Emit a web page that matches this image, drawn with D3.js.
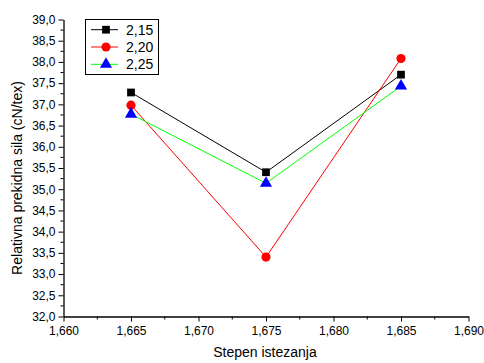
<!DOCTYPE html>
<html><head><meta charset="utf-8">
<script src="https://cdn.jsdelivr.net/npm/d3@7"></script>
<style>body{margin:0;background:#fff}svg{display:block}text{font-family:Arial,"Liberation Sans",sans-serif}</style>
</head><body>
<script>
const xValues = [1.665, 1.675, 1.685];
const seriesNames = ["2,15", "2,20", "2,25"];
const s215 = [37.28, 35.40, 37.70];
const s220 = [36.98, 33.40, 38.08];
const s225 = [36.77, 35.14, 37.43];
const xTicks = [1.660, 1.665, 1.670, 1.675, 1.680, 1.685, 1.690];
const yTicks = [32.0,32.5,33.0,33.5,34.0,34.5,35.0,35.5,36.0,36.5,37.0,37.5,38.0,38.5,39.0];

const W = 484, H = 363;
const svg = d3.select("body").append("svg").attr("width", W).attr("height", H);
const x = d3.scaleLinear().domain([1.660, 1.690]).range([63.5, 468.5]);
const y = d3.scaleLinear().domain([32, 39]).range([316.5, 19.5]);
const fmt = d => d.toFixed(3).replace(".", ",");
const fmtY = d => d.toFixed(1).replace(".", ",");

const xMinor = d3.range(0, 6).map(i => 1.6625 + i * 0.005);
const yMinor = d3.range(0, 14).map(i => 32.25 + i * 0.5);

const gx = svg.append("g").attr("transform", "translate(0,316.5)");
gx.call(d3.axisBottom(x).tickValues(xTicks).tickFormat(fmt).tickSize(5).tickSizeOuter(0));
gx.selectAll("text").attr("font-size", 12).attr("fill", "#000").attr("dy", "0.85em");
gx.selectAll("line,path").attr("stroke", "#000");
gx.select("path").attr("stroke-width", 1.3);
gx.append("g").selectAll("line").data(xMinor).join("line")
  .attr("x1", d => x(d)).attr("x2", d => x(d)).attr("y1", 0).attr("y2", 3).attr("stroke", "#000");

const gy = svg.append("g").attr("transform", "translate(63.5,0)");
gy.call(d3.axisLeft(y).tickValues(yTicks).tickFormat(fmtY).tickSize(5).tickSizeOuter(0));
gy.selectAll("text").attr("font-size", 12).attr("fill", "#000");
gy.selectAll("line,path").attr("stroke", "#000");
gy.select("path").attr("stroke-width", 1.3);
gy.append("g").selectAll("line").data(yMinor).join("line")
  .attr("y1", d => y(d)).attr("y2", d => y(d)).attr("x1", 0).attr("x2", -3).attr("stroke", "#000");

svg.append("text").attr("x", 265).attr("y", 357).attr("text-anchor", "middle")
  .attr("font-size", 14).text("Stepen istezanja");
svg.append("text").attr("transform", "translate(22,178) rotate(-90)").attr("text-anchor", "middle")
  .attr("font-size", 14).text("Relativna prekidna sila (cN/tex)");

const series = [
  {name: seriesNames[0], vals: s215, line: "#000", fill: "#000", shape: d3.symbolSquare, size: 60},
  {name: seriesNames[1], vals: s220, line: "#ff0000", fill: "#ff0000", shape: d3.symbolCircle, size: 66},
  {name: seriesNames[2], vals: s225, line: "#00ff00", fill: "#0000ff", shape: d3.symbolTriangle, size: 64},
];
const line = d3.line().x((d, i) => x(xValues[i])).y(d => y(d));
series.forEach(s => {
  svg.append("path").attr("d", line(s.vals)).attr("fill", "none").attr("stroke", s.line).attr("stroke-width", 1);
});
series.forEach(s => {
  svg.append("g").selectAll("path").data(s.vals).join("path")
    .attr("transform", (d, i) => `translate(${x(xValues[i])},${y(d)})`)
    .attr("d", d3.symbol().type(s.shape).size(s.size)).attr("fill", s.fill);
});

const lg = svg.append("g");
lg.append("rect").attr("x", 85.5).attr("y", 19.5).attr("width", 73).attr("height", 55)
  .attr("fill", "#fff").attr("stroke", "#000").attr("stroke-width", 1);
series.forEach((s, i) => {
  const yy = 29.7 + i * 17.3;
  lg.append("line").attr("x1", 91).attr("x2", 118).attr("y1", yy).attr("y2", yy).attr("stroke", s.line).attr("stroke-width", 1);
  lg.append("path").attr("transform", `translate(106,${yy})`).attr("d", d3.symbol().type(s.shape).size(s.size)).attr("fill", s.fill);
  lg.append("text").attr("x", 126).attr("y", yy).attr("dy", "0.36em").attr("font-size", 14).text(s.name);
});
</script>
</body></html>
